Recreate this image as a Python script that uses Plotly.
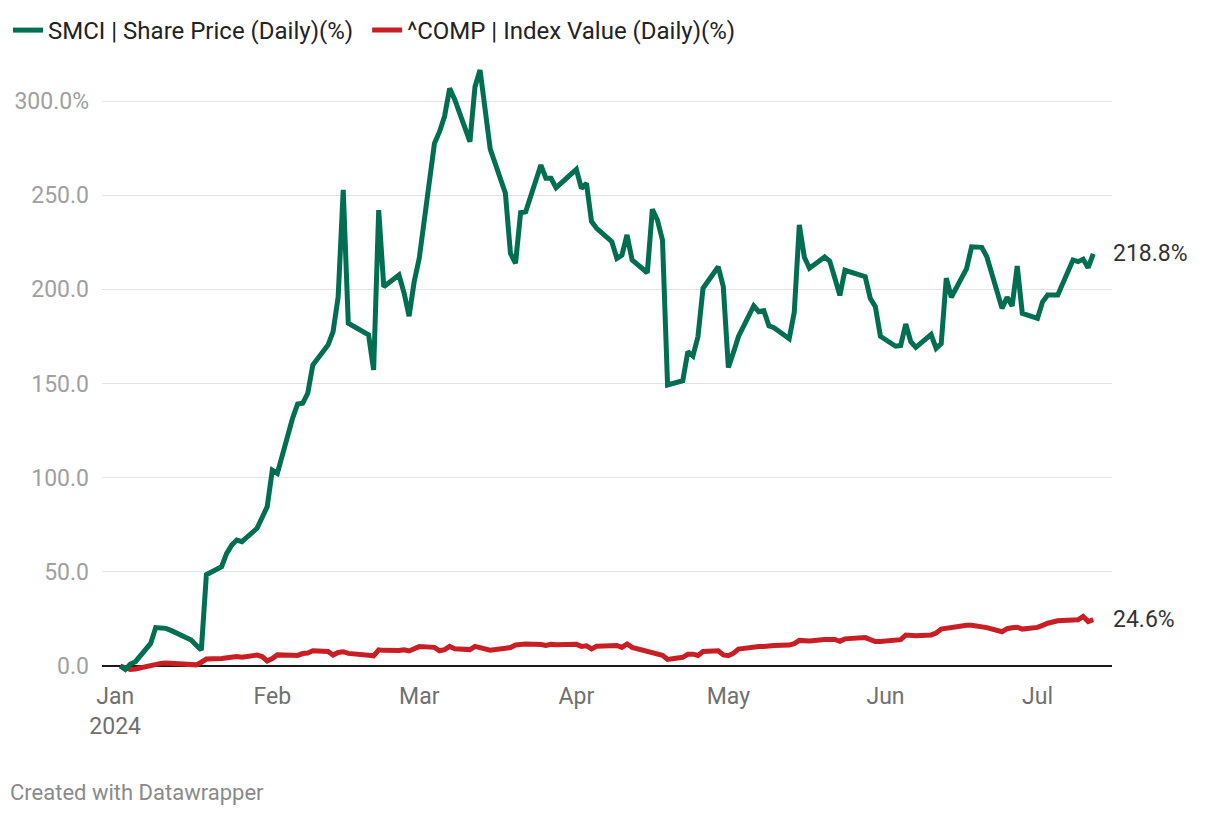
import plotly.graph_objects as go

# ---- data ----
dates = (
    ["2024-01-%02d" % d for d in [2, 3, 4, 5, 8, 9, 10, 11, 12, 16, 17, 18, 19, 22, 23, 24, 25, 26, 29, 30, 31]]
    + ["2024-02-%02d" % d for d in [1, 2, 5, 6, 7, 8, 9, 12, 13, 14, 15, 16, 20, 21, 22, 23, 26, 27, 28, 29]]
    + ["2024-03-%02d" % d for d in [1, 4, 5, 6, 7, 8, 11, 12, 13, 14, 15, 18, 19, 20, 21, 22, 25, 26, 27, 28]]
    + ["2024-04-%02d" % d for d in [1, 2, 3, 4, 5, 8, 9, 10, 11, 12, 15, 16, 17, 18, 19, 22, 23, 24, 25, 26, 29, 30]]
    + ["2024-05-%02d" % d for d in [1, 2, 3, 6, 7, 8, 9, 10, 13, 14, 15, 16, 17, 20, 21, 22, 23, 24, 28, 29, 30, 31]]
    + ["2024-06-%02d" % d for d in [3, 4, 5, 6, 7, 10, 11, 12, 13, 14, 17, 18, 20, 21, 24, 25, 26, 27, 28]]
    + ["2024-07-%02d" % d for d in [1, 2, 3, 5, 8, 9, 10, 11, 12]]
)

smci_values = [
    # Jan
    0, -1.8, 1.0, 2.3, 12.0, 20.4, 20.2, 20.0, 18.9, 13.8, 11.0, 8.5, 48.5, 52.7, 59.8, 64.2, 66.9, 66.0, 73.1, 79.0, 84.6,
    # Feb
    104.0, 102.3, 131.5, 139.1, 139.5, 144.8, 159.8, 170.4, 177.5, 196.0, 252.8, 182.0, 175.8, 157.2, 242.1, 201.4, 207.6, 198.2, 185.8, 204.0,
    # Mar
    216.5, 277.5, 283.7, 291.9, 306.7, 300.9, 278.4, 307.6, 316.5, 293.0, 274.6, 251.0, 219.1, 213.8, 240.7, 241.2, 266.0, 259.0, 259.0, 254.0,
    # Apr
    263.7, 253.6, 256.3, 236.0, 232.4, 225.3, 216.5, 218.2, 228.9, 215.6, 208.8, 242.5, 236.8, 226.2, 149.2, 151.5, 166.9, 164.6, 174.9, 200.6, 212.0, 201.4,
    # May
    158.5, 166.5, 175.0, 191.2, 188.1, 188.7, 180.6, 179.6, 173.8, 187.7, 234.2, 217.0, 211.2, 217.2, 215.0, 206.0, 196.8, 210.1, 206.7, 195.2, 190.8, 175.1,
    # Jun
    169.8, 170.2, 181.6, 172.2, 169.2, 176.0, 168.7, 171.2, 205.9, 195.8, 211.0, 222.6, 222.3, 217.3, 189.9, 195.8, 191.2, 212.4, 187.3,
    # Jul
    184.6, 193.4, 197.0, 197.0, 215.6, 214.7, 216.0, 211.5, 218.8,
]

comp_values = [
    # Jan
    0, -1.2, -1.8, -1.6, 0.5, 0.6, 1.4, 1.6, 1.4, 1.2, 0.6, 2.0, 3.7, 4.0, 4.5, 4.9, 5.0, 4.7, 5.8, 5.0, 2.7,
    # Feb
    4.0, 5.9, 5.7, 5.6, 6.6, 6.9, 8.1, 7.7, 5.8, 7.2, 7.6, 6.7, 5.7, 5.4, 8.6, 8.3, 8.2, 8.6, 8.0, 9.0,
    # Mar
    10.3, 9.9, 8.1, 8.7, 10.4, 9.2, 8.7, 10.4, 9.8, 9.4, 8.4, 9.4, 9.8, 11.2, 11.5, 11.7, 11.4, 10.9, 11.5, 11.3,
    # Apr
    11.5, 10.4, 10.7, 9.1, 10.5, 10.5, 10.9, 9.9, 11.7, 9.9, 7.8, 7.6, 6.3, 5.7, 3.5, 4.6, 6.2, 6.3, 5.6, 7.7, 8.1, 5.9,
    # May
    5.5, 6.8, 9.0, 10.3, 10.4, 10.3, 10.6, 10.9, 11.1, 11.9, 13.6, 13.2, 13.3, 14.1, 14.3, 14.1, 13.1, 14.4, 15.1, 14.3, 13.0, 13.0,
    # Jun
    13.6, 14.0, 16.4, 16.3, 16.1, 16.5, 17.5, 19.6, 20.0, 20.8, 21.6, 21.6, 20.7, 20.4, 18.2, 19.8, 20.3, 20.6, 19.6,
    # Jul
    20.5, 21.6, 22.7, 24.0, 24.3, 24.5, 26.3, 23.6, 24.6,
]

series_names = ["SMCI | Share Price (Daily)(%)", "^COMP | Index Value (Daily)(%)"]
end_labels = ["218.8%", "24.6%"]

y_tick_vals = [0, 50, 100, 150, 200, 250, 300]
y_tick_text = ["0.0", "50.0", "100.0", "150.0", "200.0", "250.0", "300.0%"]
x_tick_vals = ["2024-01-01", "2024-02-01", "2024-03-01", "2024-04-01", "2024-05-01", "2024-06-01", "2024-07-01"]
x_tick_text = ["Jan<br>2024", "Feb", "Mar", "Apr", "May", "Jun", "Jul"]

GREEN = "#006e51"
RED = "#c91f24"
FONT = "Roboto"

fig = go.Figure()
fig.add_trace(go.Scatter(
    x=dates, y=comp_values, mode="lines", name=series_names[1], legend="legend2",
    line=dict(color=RED, width=5),
    hoverinfo="skip",
))
fig.add_trace(go.Scatter(
    x=dates, y=smci_values, mode="lines", name=series_names[0], legend="legend",
    line=dict(color=GREEN, width=5),
    hoverinfo="skip",
))

for val, lab in zip([smci_values[-1], comp_values[-1]], end_labels):
    fig.add_annotation(x=dates[-1], y=val, text=lab, showarrow=False,
                       xanchor="left", yanchor="middle", xshift=18,
                       font=dict(family=FONT, size=23, color="#333333"))

fig.add_annotation(xref="paper", yref="paper", x=-0.0929, y=-0.175,
                   text="Created with Datawrapper",
                   showarrow=False, xanchor="left", yanchor="middle",
                   font=dict(family=FONT, size=22, color="#8a8a8a"))

legend_common = dict(
    orientation="h", xref="paper", yref="paper",
    y=1.0, xanchor="left", yanchor="top",
    font=dict(family=FONT, size=24, color="#222222"),
    itemwidth=30, bgcolor="rgba(0,0,0,0)",
)

fig.update_layout(
    width=1220, height=816,
    margin=dict(l=92, r=116, t=0, b=148),
    paper_bgcolor="white", plot_bgcolor="white",
    font=dict(family=FONT),
    showlegend=True,
    legend=dict(x=-0.0933, **legend_common),
    legend2=dict(x=0.2625, **legend_common),
    xaxis=dict(
        type="date", automargin=False,
        range=["2023-12-29 09:36", "2024-07-15 16:48"],
        tickmode="array", tickvals=x_tick_vals, ticktext=x_tick_text,
        showgrid=False, zeroline=False, showline=False, ticks="",
        tickfont=dict(family=FONT, size=23, color="#707070"),
        ticklabelstandoff=4,
    ),
    yaxis=dict(
        automargin=False,
        range=[-5.31, 349.4],
        tickmode="array", tickvals=y_tick_vals, ticktext=y_tick_text,
        showgrid=True, gridcolor="#e3e3e3", gridwidth=1,
        zeroline=True, zerolinecolor="#1a1a1a", zerolinewidth=2,
        showline=False, ticks="",
        tickfont=dict(family=FONT, size=23, color="#a0a0a0"),
        ticklabelstandoff=12,
    ),
)

fig.write_html("out.html")
